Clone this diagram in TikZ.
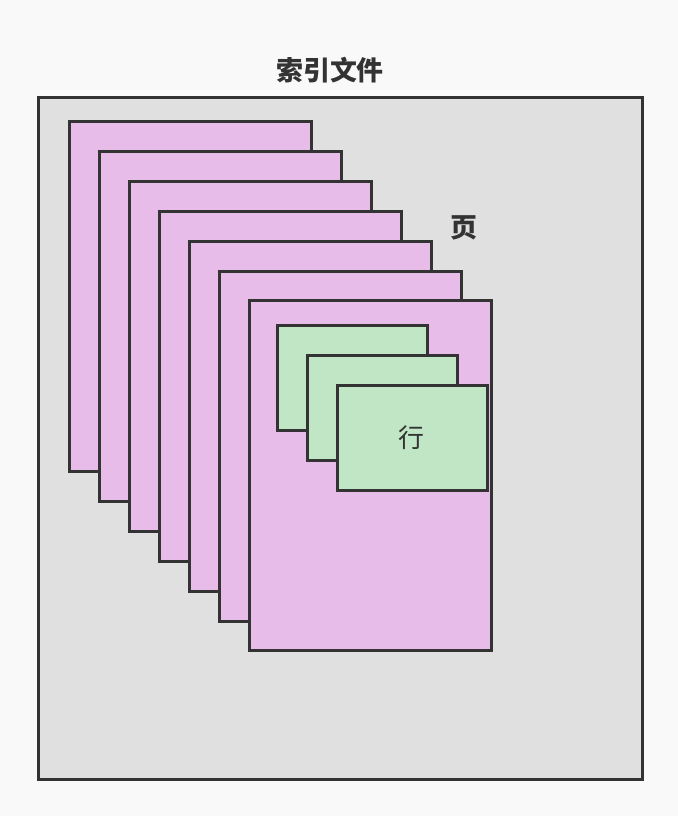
\documentclass[tikz,border=0pt]{standalone}
\usepackage{fontspec}
\usepackage{tikz}
\usetikzlibrary{positioning, arrows.meta}
\newfontfamily\cjk{Noto Sans CJK SC}
\definecolor{bgwhite}{RGB}{249, 249, 249}
\definecolor{filegray}{RGB}{224, 224, 224}
\definecolor{pagepink}{RGB}{232, 188, 232}
\definecolor{rowgreen}{RGB}{192, 230, 198}
\definecolor{edgedark}{RGB}{51, 51, 51}

\begin{document}
\begin{tikzpicture}[x=1bp, y=-1bp, line width=3bp, font=\cjk\fontsize{26}{30}\selectfont]
    \useasboundingbox[fill=bgwhite] (0,0) rectangle (678,816);
    % File
    \node (file) [draw=edgedark, fill=filegray, anchor=north west, minimum width=604bp, minimum height=682bp, inner sep=0pt] at (37,96) {};
    \node (filelabel) [text=edgedark, font=\cjk\bfseries\fontsize{27}{30}\selectfont] at (330,70) {索引文件};
    % Pages
    \node (p1) [draw=edgedark, fill=pagepink, anchor=north west, minimum width=242bp, minimum height=350bp, inner sep=0pt] at (68,120) {};
    \node (p2) [draw=edgedark, fill=pagepink, anchor=north west, minimum width=242bp, minimum height=350bp, inner sep=0pt] at (98,150) {};
    \node (p3) [draw=edgedark, fill=pagepink, anchor=north west, minimum width=242bp, minimum height=350bp, inner sep=0pt] at (128,180) {};
    \node (p4) [draw=edgedark, fill=pagepink, anchor=north west, minimum width=242bp, minimum height=350bp, inner sep=0pt] at (158,210) {};
    \node (p5) [draw=edgedark, fill=pagepink, anchor=north west, minimum width=242bp, minimum height=350bp, inner sep=0pt] at (188,240) {};
    \node (p6) [draw=edgedark, fill=pagepink, anchor=north west, minimum width=242bp, minimum height=350bp, inner sep=0pt] at (218,270) {};
    \node (p7) [draw=edgedark, fill=pagepink, anchor=north west, minimum width=242bp, minimum height=350bp, inner sep=0pt] at (248,299) {};
    \node (pagelabel) [text=edgedark, font=\cjk\bfseries\fontsize{27}{30}\selectfont] at (464,228) {页};
    % Rows
    \node (r1) [draw=edgedark, fill=rowgreen, anchor=north west, minimum width=150bp, minimum height=105bp, inner sep=0pt] at (276,324) {};
    \node (r2) [draw=edgedark, fill=rowgreen, anchor=north west, minimum width=150bp, minimum height=105bp, inner sep=0pt] at (306,354) {};
    \node (r3) [draw=edgedark, fill=rowgreen, anchor=north west, minimum width=150bp, minimum height=105bp, inner sep=0pt] at (336,384) {};
    \node (rowlabel) [text=edgedark] at (411,438) {行};
\end{tikzpicture}
\end{document}
